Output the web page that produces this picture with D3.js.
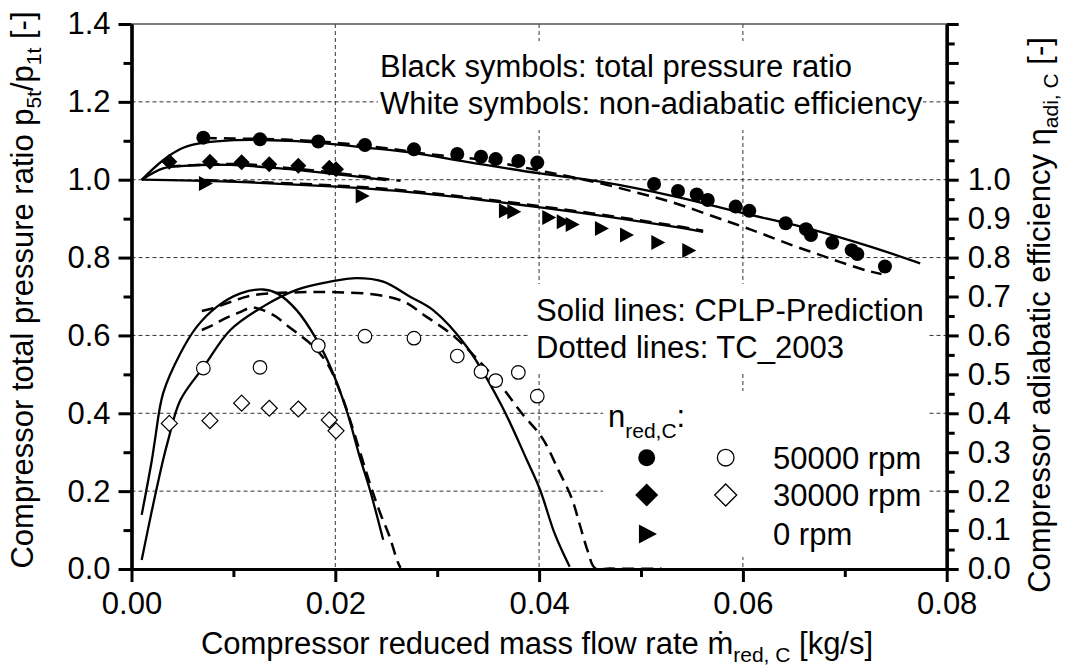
<!DOCTYPE html>
<html><head><meta charset="utf-8">
<script src="https://cdn.jsdelivr.net/npm/d3@7"></script>
<style>body{margin:0;background:#fff}svg{display:block}text{font-family:"Liberation Sans",Arial,Helvetica,sans-serif;fill:#000}</style>
</head><body><svg id="c" width="1070" height="668"></svg>
<script>
// ---------- data ----------
const xTicks = [0, 0.02, 0.04, 0.06, 0.08];
const xMinorTicks = [0.01, 0.03, 0.05, 0.07];
const yLeftTicks = [0, 0.2, 0.4, 0.6, 0.8, 1.0, 1.2, 1.4];
const yLeftMinor = [0.1, 0.3, 0.5, 0.7, 0.9, 1.1, 1.3];
const yRightTicks = [0, 0.1, 0.2, 0.3, 0.4, 0.5, 0.6, 0.7, 0.8, 0.9, 1.0, 1.1, 1.2, 1.3, 1.4];
const yRightMinor = [0.05, 0.15, 0.25, 0.35, 0.45, 0.55, 0.65, 0.75, 0.85, 0.95, 1.05, 1.15, 1.25, 1.35];
const xGrid = [0.02, 0.04, 0.06];
const yGrid = [0.2, 0.4, 0.6, 0.8, 1.0, 1.2];

// measured pressure ratio (black symbols)
const pr50X = [0.00705,0.01261,0.01833,0.02291,0.02772,0.03197,0.0343,0.03574,0.03796,0.03982,0.05128,0.05363,0.05547,0.05655,0.05929,0.06063,0.0642,0.06619,0.06668,0.06877,0.07068,0.07123,0.07394];
const pr50Y = [1.108,1.104,1.098,1.089,1.078,1.066,1.059,1.053,1.048,1.044,0.989,0.971,0.962,0.948,0.931,0.920,0.888,0.873,0.858,0.838,0.819,0.809,0.777];
const pr30X = [0.00371,0.0077,0.01081,0.01352,0.01637,0.01941,0.02007];
const pr30Y = [1.046,1.046,1.045,1.040,1.036,1.031,1.027];
const pr0X = [0.00721,0.02259,0.03665,0.03747,0.0409,0.04232,0.0432,0.04607,0.04853,0.0516,0.05464];
const pr0Y = [0.990,0.958,0.920,0.918,0.903,0.892,0.885,0.875,0.858,0.839,0.818];
// measured efficiency (white symbols)
const eta50X = [0.00705,0.01261,0.01833,0.02291,0.02772,0.03197,0.0343,0.03574,0.03796,0.03982];
const eta50Y = [0.516,0.518,0.574,0.598,0.593,0.547,0.507,0.484,0.505,0.444];
const eta30X = [0.00371,0.0077,0.01081,0.01352,0.01637,0.01941,0.02007];
const eta30Y = [0.374,0.381,0.426,0.413,0.411,0.383,0.355];

// CPLP prediction (solid) and TC_2003 (dashed) curves
const prSolid50X = [0.001,0.0031,0.0048,0.0064,0.0097,0.0129,0.0162,0.0195,0.0228,0.0273,0.0329,0.0401,0.046,0.0535,0.060,0.0659,0.0725,0.0774];
const prSolid50Y = [1.000,1.050,1.079,1.092,1.101,1.102,1.099,1.092,1.083,1.070,1.046,1.016,0.995,0.956,0.914,0.878,0.828,0.785];
const prDash50X = [0.0072,0.0098,0.015,0.020,0.025,0.029,0.0341,0.0411,0.0458,0.0506,0.0532,0.0574,0.0599,0.0622,0.0649,0.0672,0.0695,0.0721,0.0736];
const prDash50Y = [1.107,1.106,1.103,1.095,1.081,1.066,1.052,1.018,0.992,0.960,0.941,0.903,0.880,0.858,0.831,0.810,0.789,0.767,0.758];
const prSolid30X = [0.001,0.0031,0.0048,0.0097,0.0146,0.0195,0.025];
const prSolid30Y = [1.000,1.029,1.035,1.038,1.029,1.016,0.999];
const prDash30X = [0.0037,0.0077,0.0108,0.0146,0.0195,0.023,0.0264];
const prDash30Y = [1.034,1.039,1.040,1.032,1.019,1.008,0.997];
const prSolid0X = [0.001,0.0097,0.0201,0.0273,0.0401,0.0535,0.0561];
const prSolid0Y = [1.000,0.995,0.982,0.968,0.929,0.878,0.866];
const prDash0X = [0.0072,0.0201,0.0273,0.0401,0.0535,0.0561];
const prDash0Y = [0.999,0.985,0.971,0.932,0.881,0.869];

const etaSolid50X = [0.001,0.002,0.0031,0.0036,0.0048,0.0071,0.0097,0.0129,0.0162,0.0195,0.0221,0.0247,0.0273,0.0296,0.0329,0.0362,0.0388,0.0401,0.0414,0.0422,0.0430];
const etaSolid50Y = [0.023,0.15,0.28,0.331,0.434,0.52,0.614,0.674,0.717,0.738,0.747,0.738,0.70,0.665,0.571,0.426,0.28,0.203,0.10,0.05,0.006];
const etaDash50X = [0.0069,0.008,0.0097,0.0119,0.0165,0.0201,0.0242,0.0267,0.029,0.0315,0.034,0.0361,0.0383,0.0403,0.0419,0.0432,0.044,0.0448,0.0455,0.047,0.052];
const etaDash50Y = [0.663,0.670,0.686,0.703,0.711,0.711,0.704,0.687,0.647,0.601,0.537,0.476,0.40,0.337,0.254,0.182,0.113,0.044,0.002,0.001,0.001];
const etaSolid30X = [0.001,0.002,0.0023,0.0031,0.0048,0.0064,0.0084,0.0107,0.0129,0.0143,0.0162,0.0182,0.0195,0.0211,0.0224,0.0234,0.0247];
const etaSolid30Y = [0.139,0.28,0.331,0.451,0.554,0.622,0.674,0.708,0.718,0.708,0.665,0.588,0.520,0.408,0.288,0.203,0.075];
const etaDash30X = [0.0069,0.008,0.0093,0.0106,0.0118,0.0129,0.0142,0.0152,0.0167,0.0177,0.0192,0.0207,0.0216,0.0235,0.0244,0.0253,0.0261,0.0264];
const etaDash30Y = [0.614,0.627,0.645,0.659,0.672,0.665,0.648,0.627,0.597,0.575,0.529,0.44,0.37,0.211,0.144,0.085,0.02,0.003];

const legendLabels = ["50000 rpm", "30000 rpm", "0 rpm"];

// ---------- drawing ----------
const zip = (a, b) => a.map((v, i) => [v, b[i]]);
const svg = d3.select("#c");
const x = d3.scaleLinear().domain([0, 0.08]).range([131.5, 946.7]);
const y = d3.scaleLinear().domain([0, 1.4]).range([569, 24]);
const yR = d3.scaleLinear().domain([0, 1.4]).range([569, 24]);

svg.append("rect").attr("width", 1070).attr("height", 668).attr("fill", "#fff");

// grid
const grid = svg.append("g").attr("stroke", "#333").attr("stroke-width", 1).attr("stroke-dasharray", "4,3");
xGrid.forEach(v => grid.append("line").attr("x1", x(v)).attr("x2", x(v)).attr("y1", y(1.4)).attr("y2", y(0)));
yGrid.forEach(v => grid.append("line").attr("x1", x(0)).attr("x2", x(0.08)).attr("y1", y(v)).attr("y2", y(v)));

// white boxes behind the annotations
[[378, 41, 545, 89], [528, 284, 399, 90], [603, 391, 324, 166]].forEach(b =>
  svg.append("rect").attr("x", b[0]).attr("y", b[1]).attr("width", b[2]).attr("height", b[3]).attr("fill", "#fff"));

// clip
svg.append("clipPath").attr("id", "clip").append("rect")
  .attr("x", x(0)).attr("y", y(1.4)).attr("width", x(0.08) - x(0)).attr("height", y(0) - y(1.4));

const line = d3.line().x(d => x(d[0])).y(d => y(d[1])).curve(d3.curveCatmullRom.alpha(0.5));
const curves = svg.append("g").attr("clip-path", "url(#clip)").attr("fill", "none").attr("stroke", "#000");
const solids = [[prSolid50X, prSolid50Y], [prSolid30X, prSolid30Y], [prSolid0X, prSolid0Y], [etaSolid50X, etaSolid50Y], [etaSolid30X, etaSolid30Y]];
const dashes = [[prDash50X, prDash50Y], [prDash30X, prDash30Y], [prDash0X, prDash0Y], [etaDash50X, etaDash50Y], [etaDash30X, etaDash30Y]];
dashes.forEach(s => curves.append("path").attr("d", line(zip(s[0], s[1]))).attr("stroke-width", 2.5).attr("stroke-dasharray", "12,7"));
solids.forEach(s => curves.append("path").attr("d", line(zip(s[0], s[1]))).attr("stroke-width", 2.3));

// marker shapes
const diamond = h => `M0,${-h}L${h},0L0,${h}L${-h},0Z`;
const triangle = (w, h) => `M${-w * 0.43},${-h / 2}L${w * 0.57},0L${-w * 0.43},${h / 2}Z`;

const mk = svg.append("g");
zip(pr50X, pr50Y).forEach(d => mk.append("circle").attr("cx", x(d[0])).attr("cy", y(d[1])).attr("r", 7).attr("fill", "#000"));
zip(pr30X, pr30Y).forEach(d => mk.append("path").attr("d", diamond(8)).attr("transform", `translate(${x(d[0])},${y(d[1])})`).attr("fill", "#000"));
zip(pr0X, pr0Y).forEach(d => mk.append("path").attr("d", triangle(14, 15)).attr("transform", `translate(${x(d[0])},${y(d[1])})`).attr("fill", "#000"));
zip(eta50X, eta50Y).forEach(d => mk.append("circle").attr("cx", x(d[0])).attr("cy", yR(d[1])).attr("r", 6.8).attr("fill", "#fff").attr("stroke", "#000").attr("stroke-width", 1.2));
zip(eta30X, eta30Y).forEach(d => mk.append("path").attr("d", diamond(8)).attr("transform", `translate(${x(d[0])},${yR(d[1])})`).attr("fill", "#fff").attr("stroke", "#000").attr("stroke-width", 1.2));

// axes
const FS = 31, SUB = 21;
const styleAxis = (g, sw) => {
  g.select(".domain").attr("stroke-width", 3.2).attr("stroke", "#000");
  g.selectAll(".tick line").attr("stroke-width", sw).attr("stroke", "#000");
  g.selectAll(".tick text").style("font-size", FS + "px").attr("fill", "#000").style("font-family", '"Liberation Sans",Arial,sans-serif');
};
svg.append("line").attr("x1", x(0)).attr("x2", x(0.08)).attr("y1", y(1.4)).attr("y2", y(1.4)).attr("stroke", "#555").attr("stroke-width", 1.3);

const gl = svg.append("g").attr("transform", `translate(${x(0)},0)`)
  .call(d3.axisLeft(y).tickValues(yLeftTicks).tickSize(13).tickSizeOuter(0).tickPadding(8).tickFormat(d3.format(".1f")));
styleAxis(gl, 3);
const glm = svg.append("g").attr("transform", `translate(${x(0)},0)`)
  .call(d3.axisLeft(y).tickValues(yLeftMinor).tickSize(8).tickSizeOuter(0).tickFormat(""));
styleAxis(glm, 3);

const gb = svg.append("g").attr("transform", `translate(0,${y(0)})`)
  .call(d3.axisBottom(x).tickValues(xTicks).tickSize(13).tickSizeOuter(0).tickPadding(10).tickFormat(d3.format(".2f")));
styleAxis(gb, 3);
const gbm = svg.append("g").attr("transform", `translate(0,${y(0)})`)
  .call(d3.axisBottom(x).tickValues(xMinorTicks).tickSize(8).tickSizeOuter(0).tickFormat(""));
styleAxis(gbm, 3);

const gr = svg.append("g").attr("transform", `translate(${x(0.08)},0)`)
  .call(d3.axisRight(yR).tickValues(yRightTicks).tickSize(12).tickSizeOuter(0).tickPadding(9)
    .tickFormat(d => d <= 1.0001 ? d3.format(".1f")(d) : ""));
styleAxis(gr, 3);
const grm = svg.append("g").attr("transform", `translate(${x(0.08)},0)`)
  .call(d3.axisRight(yR).tickValues(yRightMinor).tickSize(8).tickSizeOuter(0).tickFormat(""));
styleAxis(grm, 3);

// text helpers
function richText(parent, parts, attrs) {
  const t = parent.append("text").style("font-size", FS + "px");
  Object.entries(attrs).forEach(([k, v]) => t.attr(k, v));
  let shift = 0;
  parts.forEach(p => {
    const s = t.append("tspan").text(p[0]);
    const target = p[1] ? (p[2] || 8) : 0;
    if (p[1]) s.style("font-size", SUB + "px");
    if (target !== shift) { s.attr("dy", target - shift); shift = target; }
  });
  return t;
}

// axis titles
richText(svg, [["Compressor total pressure ratio p"], ["5t", 1], ["/p"], ["1t", 1], [" [-]"]],
  { transform: "translate(33,290) rotate(-90)", "text-anchor": "middle" });
richText(svg, [["Compressor adiabatic efficiency η"], ["adi, C", 1], [" [-]"]],
  { transform: "translate(1050,315) rotate(-90)", "text-anchor": "middle" });
richText(svg, [["Compressor reduced mass flow rate ṁ"], ["red, C", 1], [" [kg/s]"]],
  { x: 537, y: 654, "text-anchor": "middle" });

// annotations
svg.append("text").attr("x", 380).attr("y", 77).style("font-size", FS + "px").text("Black symbols: total pressure ratio");
svg.append("text").attr("x", 380).attr("y", 114).style("font-size", FS + "px").text("White symbols: non-adiabatic efficiency");
svg.append("text").attr("x", 536).attr("y", 321).style("font-size", FS + "px").text("Solid lines: CPLP-Prediction");
svg.append("text").attr("x", 536).attr("y", 358).style("font-size", FS + "px").text("Dotted lines: TC_2003");
richText(svg, [["n"], ["red,C", 1, 11], [":"]], { x: 608, y: 427 });

// legend
const lg = svg.append("g");
const rowsY = [457.7, 495, 534];
lg.append("circle").attr("cx", 646.7).attr("cy", rowsY[0]).attr("r", 8.5).attr("fill", "#000");
lg.append("circle").attr("cx", 725.7).attr("cy", rowsY[0]).attr("r", 8.3).attr("fill", "#fff").attr("stroke", "#000").attr("stroke-width", 1.3);
lg.append("path").attr("d", diamond(11.5)).attr("transform", `translate(646.7,${rowsY[1]})`).attr("fill", "#000");
lg.append("path").attr("d", diamond(11)).attr("transform", `translate(725.7,${rowsY[1]})`).attr("fill", "#fff").attr("stroke", "#000").attr("stroke-width", 1.3);
lg.append("path").attr("d", triangle(18, 19)).attr("transform", `translate(646.7,${rowsY[2]})`).attr("fill", "#000");
legendLabels.forEach((l, i) => lg.append("text").attr("x", 773).attr("y", rowsY[i] + 11).style("font-size", FS + "px").text(l));
</script></body></html>
